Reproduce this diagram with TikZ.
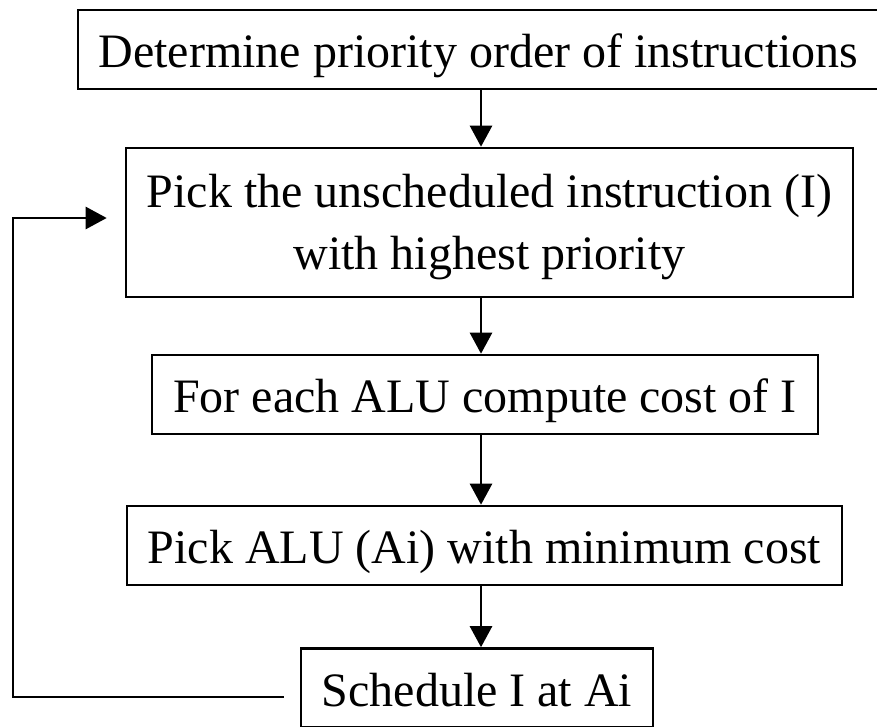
\documentclass[tikz,border=0pt]{standalone}
\usepackage{fontspec}
\setmainfont{Liberation Serif}
\usetikzlibrary{arrows.meta,positioning}
\newcommand{\flowFont}{\fontsize{48}{62}\selectfont}
\newcommand{\flowLine}{2.6pt}

\begin{document}
\begin{tikzpicture}[x=1pt, y=-1pt, line width=\flowLine, every node/.style={font=\flowFont},
	box/.style={draw, inner sep=0pt, minimum height=79pt, text height=40pt, text depth=4pt},
	flow/.style={-{Triangle[length=21pt,width=22pt]}}]
	\useasboundingbox (0,0) rectangle (877,726);
		\node[box, minimum width=801pt] (determine) at (478.5,49.5) {Determine priority order of instructions};
		\node[box, minimum width=727pt, minimum height=149pt, align=center,
			text height=103pt, text depth=10pt] (pick) at (489.5,222.5) {Pick the unscheduled instruction (I)\\with highest priority};
		\node[box, minimum width=666pt] (cost) at (485,394.5) {For each ALU compute cost of I};
		\node[box, minimum width=715pt] (alu) at (484.5,545.5) {Pick ALU (Ai) with minimum cost};
		\node[box, minimum width=352pt] (schedule) at (477,688) {Schedule I at Ai};
		%\node[box] (done) ...
		\coordinate (spine) at (481,0);
		\coordinate (back) at (13,218);
		\coordinate (backend) at ([xshift=-18pt]pick.west);
		\draw[flow] (determine.south -| spine) -- (pick.north -| spine);
		\draw[flow] (pick.south -| spine) -- (cost.north -| spine);
		\draw[flow] (cost.south -| spine) -- (alu.north -| spine);
		\draw[flow] (alu.south -| spine) -- (schedule.north -| spine);
		\draw[flow] ([xshift=-16pt,yshift=-9pt]schedule.west) -| (back) -- (back -| backend);
	\end{tikzpicture}
\end{document}
